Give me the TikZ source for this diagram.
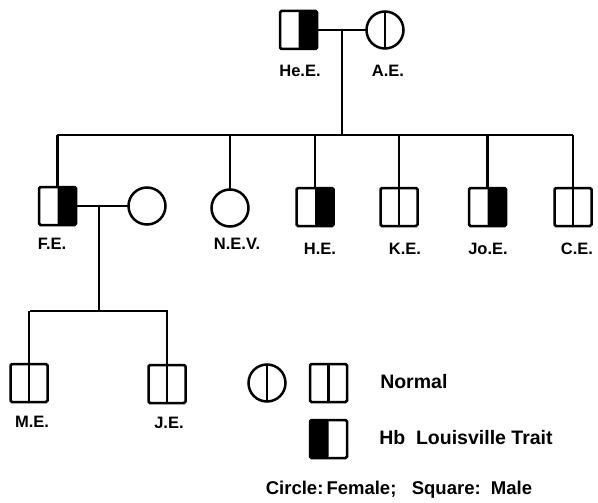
\documentclass[tikz,border=0pt]{standalone}
\usepackage{fontspec}
\setmainfont{Liberation Sans}
\begin{document}
\begin{tikzpicture}[x=1pt,y=-1pt,
  line width=2.5pt,
  base/.style={draw, line width=2.5pt, inner sep=0pt, outer sep=0pt},
  male/.style={base, rectangle, rounded corners=1.5pt, minimum width=37pt, minimum height=38pt,
    path picture={\draw[line width=2.2pt] (path picture bounding box.north) -- (path picture bounding box.south);}},
  maleR/.style={base, rectangle, rounded corners=1.5pt, minimum width=37pt, minimum height=38pt,
    path picture={\fill[black] (path picture bounding box.north) rectangle (path picture bounding box.south east);}},
  maleL/.style={base, rectangle, rounded corners=1.5pt, minimum width=37pt, minimum height=38pt,
    path picture={\fill[black] (path picture bounding box.north west) rectangle (path picture bounding box.south);}},
  femaleN/.style={base, circle, minimum size=37pt,
    path picture={\draw[line width=2.2pt] (path picture bounding box.north) -- (path picture bounding box.south);}},
  female/.style={base, circle, minimum size=37pt},
  lbl/.style={font=\fontsize{16.5}{18}\selectfont\bfseries, inner sep=0pt},
  leg/.style={font=\fontsize{19.5}{22}\selectfont\bfseries, inner sep=0pt, anchor=west},
  line/.style={line width=2.5pt}
]
\useasboundingbox (0,0) rectangle (598,503);

% generation I
\node[maleR] (HeE) at (298.5,30) {};
\node[femaleN] (AE) at (385,30) {};
\node[lbl] (HeEl) at (300,71) {He.E.};
\node[lbl] (AEl) at (388,71) {A.E.};
\coordinate (m1) at (342,30);
\coordinate (s1L) at (57,135);
\coordinate (s1R) at (573,135);
\draw[line] (HeE.east) -- (AE.west);
\draw[line] (m1) -- (m1 |- s1L);
\draw[line] (s1L) -- (s1R);

% generation II
\node[maleR] (FE) at (57.5,206) {};
\node[female] (FEw) at (147,206) {};
\node[female] (NEV) at (230,208) {};
\node[maleR] (HE) at (315,207) {};
\node[male] (KE) at (399,207) {};
\node[maleR] (JoE) at (487.5,207) {};
\node[male] (CE) at (573,207) {};
\node[lbl] (FEl) at (52,244) {F.E.};
\node[lbl] (NEVl) at (237,244) {N.E.V.};
\node[lbl] (HEl) at (320,249) {H.E.};
\node[lbl] (KEl) at (405,249) {K.E.};
\node[lbl] (JoEl) at (488,249) {Jo.E.};
\node[lbl] (CEl) at (577,249) {C.E.};
\foreach \n in {FE,NEV,HE,KE,JoE,CE}{\draw[line] (\n.north) -- (\n.north |- s1L);}
\draw[line] (FE.east) -- (FEw.west);
\coordinate (m2) at (99,206);
\coordinate (s2L) at (30,311);
\coordinate (s2R) at (168,311);
\draw[line] (m2) -- (m2 |- s2L);
\draw[line] (s2L) -- (s2R);

% generation III
\node[male] (ME) at (29,383) {};
\node[male] (JE) at (167,384) {};
\node[lbl] (MEl) at (32,422) {M.E.};
\node[lbl] (JEl) at (169,423) {J.E.};
\draw[line] (ME.north) -- (ME.north |- s2L);
\draw[line] (JE.north) -- (JE.north |- s2L);

% legend
\node[femaleN] (Lc) at (267,383) {};
\node[male] (Ln) at (328.5,383) {};
\node[maleL] (Lt) at (328.5,439) {};
\node[leg] (Lnt) at (379,382) {Normal};
\node[leg] (Ltt) at (378,438) {Hb\ \ Louisville Trait};
\node[font=\fontsize{18.5}{21}\selectfont\bfseries, inner sep=0pt] (Lsex) at (399,490) {Circle:\,Female;\ \ \ Square:\ \ Male};
\end{tikzpicture}
\end{document}
